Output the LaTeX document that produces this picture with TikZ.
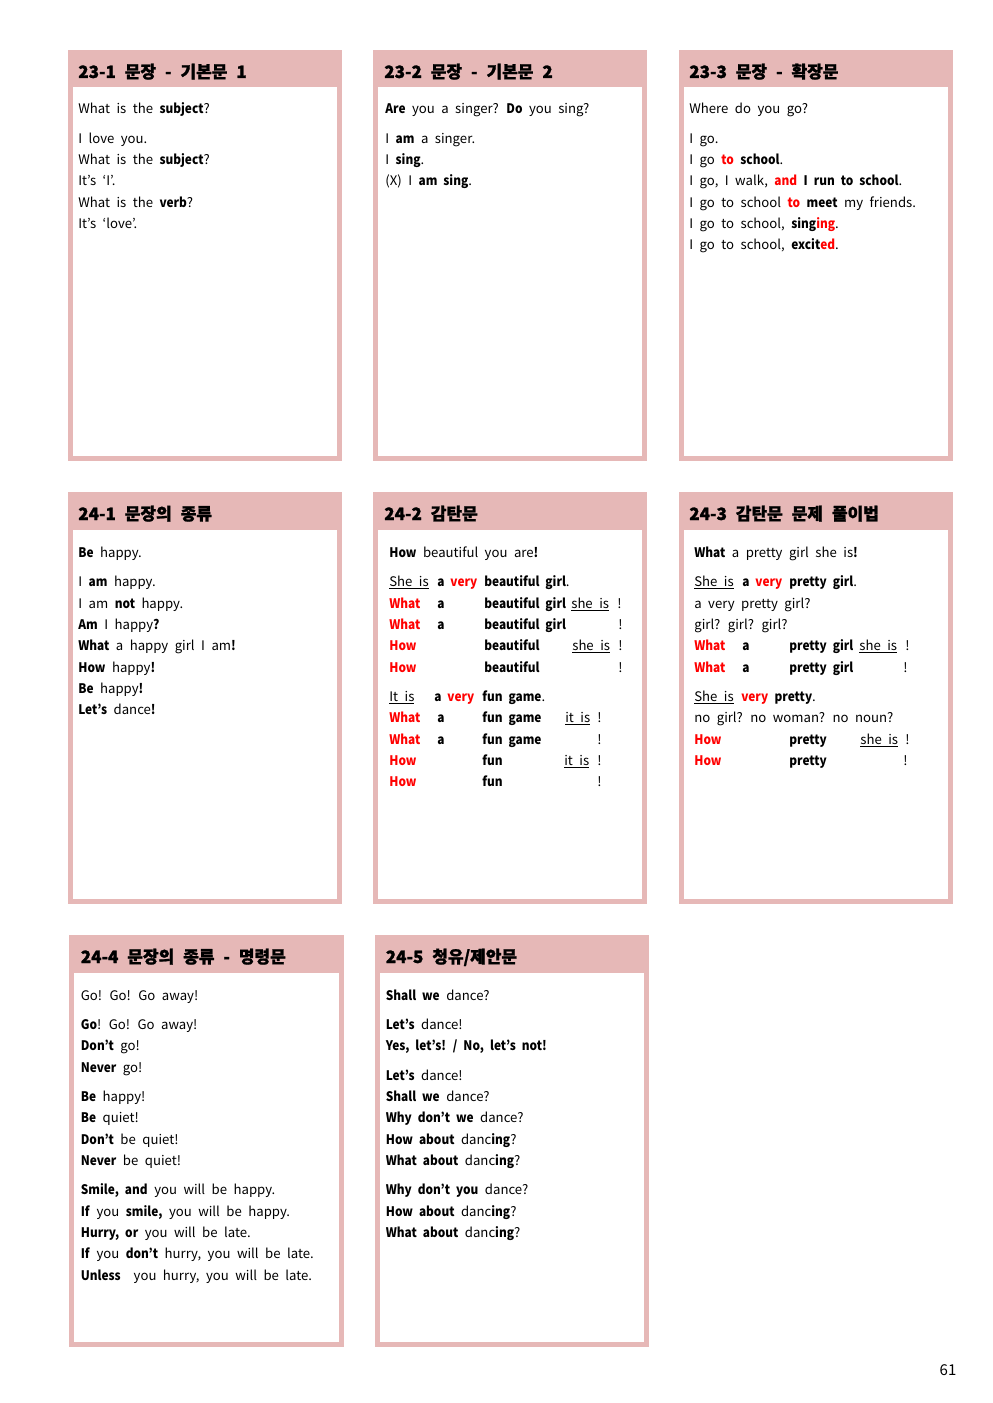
\documentclass[tikz,border=0pt]{standalone}
\usepackage{fontspec}
\setmainfont{Noto Sans CJK KR}[WordSpace=2.2, BoldFeatures={FakeStretch=0.9}]
\newfontfamily\hfont{Noto Sans CJK KR}[WordSpace=2.3, BoldFeatures={FakeBold=1.2}]
\definecolor{boxpink}{HTML}{E6B8B7}
\definecolor{hred}{HTML}{FF0000}
\newcommand\rd[1]{\textcolor{hred}{#1}}
\newcommand\rb[1]{\textcolor{hred}{\textbf{#1}}}
\newcommand\undl[1]{\underline{#1}}
\newcommand\card[5]{%
  \fill[boxpink] (#1,#2) rectangle (#3,#4);
  \fill[white] (#1+5,#5) rectangle (#3-5,#4-5);}
\newcommand\putln[4]{\node[body] (#1) at (#2,#3) {#4};}
\newcommand\puthd[4]{\node[head] (#1) at (#2,#3) {#4};}
\tikzset{
  body/.style={anchor=base west, inner sep=0pt, font=\fontsize{7.9pt}{9pt}\selectfont},
  head/.style={anchor=base west, inner sep=0pt, font=\hfont\bfseries\fontsize{10.2pt}{12pt}\selectfont},
  pagenum/.style={anchor=base, inner sep=0pt, font=\fontsize{9pt}{10pt}\selectfont}
}
\begin{document}
\begin{tikzpicture}[x=0.6pt,y=-0.6pt]
\fill[white] (0,0) rectangle (992,1403);
\useasboundingbox (0,0) rectangle (992,1403);
% cards
\card{68}{50}{342}{461}{87}
\card{373}{50}{647}{461}{87}
\card{679}{50}{953}{461}{87}
\card{68}{492}{342}{904}{530}
\card{373}{492}{647}{904}{530}
\card{679}{492}{953}{904}{530}
\card{69}{935}{344}{1347}{973}
\card{375}{935}{649}{1347}{973}
% headers
\puthd{h231}{78}{78}{23-1 문장 - 기본문 1}
\puthd{h232}{384}{78}{23-2 문장 - 기본문 2}
\puthd{h233}{689}{78}{23-3 문장 - 확장문}
\puthd{h241}{78}{520}{24-1 문장의 종류}
\puthd{h242}{384}{520}{24-2 감탄문}
\puthd{h243}{689}{520}{24-3 감탄문 문제 풀이법}
\puthd{h244}{80.5}{963}{24-4 문장의 종류 - 명령문}
\puthd{h245}{385.5}{963}{24-5 청유/제안문}
% 23-1
\putln{a1}{78}{114}{What is the \textbf{subject}?}
\putln{a2}{78}{144}{I love you.}
\putln{a3}{78}{165}{What is the \textbf{subject}?}
\putln{a4}{78}{186}{It’s ‘I’.}
\putln{a5}{78}{208}{What is the \textbf{verb}?}
\putln{a6}{78}{229}{It’s ‘love’.}
% 23-2
\putln{b1}{385}{114}{\textbf{Are} you a singer? \textbf{Do} you sing?}
\putln{b2}{385}{144}{I \textbf{am} a singer.}
\putln{b3}{385}{165}{I \textbf{sing}.}
\putln{b4}{385}{186}{(X) I \textbf{am sing}.}
% 23-3
\putln{c1}{689}{114}{Where do you go?}
\putln{c2}{689}{144}{I go.}
\putln{c3}{689}{165}{I go \rb{to} \textbf{school}.}
\putln{c4}{689}{186}{I go, I walk, \rb{and} \textbf{I run to school}.}
\putln{c5}{689}{208}{I go to school \rb{to} \textbf{meet} my friends.}
\putln{c6}{689}{229}{I go to school, \textbf{sing\rd{ing}}.}
\putln{c7}{689}{250}{I go to school, \textbf{excit\rd{ed}}.}
% 24-1
\putln{d1}{78}{557}{\textbf{Be} happy.}
\putln{d2}{78}{586}{I \textbf{am} happy.}
\putln{d3}{78}{608}{I am \textbf{not} happy.}
\putln{d4}{78}{629}{\textbf{Am} I happy\textbf{?}}
\putln{d5}{78}{650}{\textbf{What} a happy girl I am\textbf{!}}
\putln{d6}{78}{672}{\textbf{How} happy\textbf{!}}
\putln{d7}{78}{693}{\textbf{Be} happy\textbf{!}}
\putln{d8}{78}{714}{\textbf{Let’s} dance\textbf{!}}
% 24-2
\putln{e1}{389}{557}{\textbf{How} beautiful you are\textbf{!}}
\putln{e2a}{389}{586}{\undl{She is}}
\putln{e2b}{437}{586}{\textbf{a \rd{very}}}
\putln{e2c}{484}{586}{\textbf{beautiful girl}.}
\putln{e3a}{389}{608}{\rb{What}}
\putln{e3b}{437}{608}{\textbf{a}}
\putln{e3c}{484}{608}{\textbf{beautiful girl}}
\putln{e3d}{571}{608}{\undl{she is}}
\putln{e3e}{617}{608}{!}
\putln{e4a}{389}{629}{\rb{What}}
\putln{e4b}{437}{629}{\textbf{a}}
\putln{e4c}{484}{629}{\textbf{beautiful girl}}
\putln{e4e}{618}{629}{!}
\putln{e5a}{389}{650}{\rb{How}}
\putln{e5c}{484}{650}{\textbf{beautiful}}
\putln{e5d}{572}{650}{\undl{she is}}
\putln{e5e}{618}{650}{!}
\putln{e6a}{389}{672}{\rb{How}}
\putln{e6c}{484}{672}{\textbf{beautiful}}
\putln{e6e}{618}{672}{!}
\putln{e7a}{389}{701}{\undl{It is}}
\putln{e7b}{434}{701}{\textbf{a \rd{very}}}
\putln{e7c}{482}{701}{\textbf{fun game}.}
\putln{e8a}{389}{722}{\rb{What}}
\putln{e8b}{437}{722}{\textbf{a}}
\putln{e8c}{482}{722}{\textbf{fun game}}
\putln{e8d}{565}{722}{\undl{it is}}
\putln{e8e}{597}{722}{!}
\putln{e9a}{389}{744}{\rb{What}}
\putln{e9b}{437}{744}{\textbf{a}}
\putln{e9c}{482}{744}{\textbf{fun game}}
\putln{e9e}{597}{744}{!}
\putln{e10a}{389}{765}{\rb{How}}
\putln{e10c}{482}{765}{\textbf{fun}}
\putln{e10d}{564}{765}{\undl{it is}}
\putln{e10e}{597}{765}{!}
\putln{e11a}{389}{786}{\rb{How}}
\putln{e11c}{482}{786}{\textbf{fun}}
\putln{e11e}{597}{786}{!}
% 24-3
\putln{f1}{694}{557}{\textbf{What} a pretty girl she is\textbf{!}}
\putln{f2a}{694}{586}{\undl{She is}}
\putln{f2b}{742}{586}{\textbf{a \rd{very}}}
\putln{f2c}{789}{586}{\textbf{pretty girl}.}
\putln{f3}{694}{608}{a very pretty girl?}
\putln{f4}{694}{629}{girl? girl? girl?}
\putln{f5a}{694}{650}{\rb{What}}
\putln{f5b}{742}{650}{\textbf{a}}
\putln{f5c}{789}{650}{\textbf{pretty girl}}
\putln{f5d}{859}{650}{\undl{she is}}
\putln{f5e}{905}{650}{!}
\putln{f6a}{694}{672}{\rb{What}}
\putln{f6b}{742}{672}{\textbf{a}}
\putln{f6c}{789}{672}{\textbf{pretty girl}}
\putln{f6e}{903}{672}{!}
\putln{f7a}{694}{701}{\undl{She is}}
\putln{f7b}{741}{701}{\rb{very} \textbf{pretty}.}
\putln{f8}{694}{722}{no girl? no woman? no noun?}
\putln{f9a}{694}{744}{\rb{How}}
\putln{f9c}{789}{744}{\textbf{pretty}}
\putln{f9d}{860}{744}{\undl{she is}}
\putln{f9e}{905}{744}{!}
\putln{f10a}{694}{765}{\rb{How}}
\putln{f10c}{789}{765}{\textbf{pretty}}
\putln{f10e}{903}{765}{!}
% 24-4
\putln{g1}{80.5}{1000}{Go! Go! Go away!}
\putln{g2}{80.5}{1029}{\textbf{Go}! Go! Go away!}
\putln{g3}{80.5}{1050}{\textbf{Don’t} go!}
\putln{g4}{80.5}{1072}{\textbf{Never} go!}
\putln{g5}{80.5}{1101}{\textbf{Be} happy!}
\putln{g6}{80.5}{1122}{\textbf{Be} quiet!}
\putln{g7}{80.5}{1144}{\textbf{Don’t} be quiet!}
\putln{g8}{80.5}{1165}{\textbf{Never} be quiet!}
\putln{g9}{80.5}{1194}{\textbf{Smile, and} you will be happy.}
\putln{g10}{80.5}{1216}{\textbf{If} you \textbf{smile,} you will be happy.}
\putln{g11}{80.5}{1237}{\textbf{Hurry, or} you will be late.}
\putln{g12}{80.5}{1258}{\textbf{If} you \textbf{don’t} hurry, you will be late.}
\putln{g13}{80.5}{1280}{\textbf{Unless}\ \ you hurry, you will be late.}
% 24-5
\putln{k1}{385.5}{1000}{\textbf{Shall we} dance?}
\putln{k2}{385.5}{1029}{\textbf{Let’s} dance!}
\putln{k3}{385.5}{1050}{\textbf{Yes, let’s! / No, let’s not!}}
\putln{k4}{385.5}{1080}{\textbf{Let’s} dance!}
\putln{k5}{385.5}{1101}{\textbf{Shall we} dance?}
\putln{k6}{385.5}{1122}{\textbf{Why don’t we} dance?}
\putln{k7}{385.5}{1144}{\textbf{How about} danc\textbf{ing}?}
\putln{k8}{385.5}{1165}{\textbf{What about} danc\textbf{ing}?}
\putln{k9}{385.5}{1194}{\textbf{Why don’t you} dance?}
\putln{k10}{385.5}{1216}{\textbf{How about} danc\textbf{ing}?}
\putln{k11}{385.5}{1237}{\textbf{What about} danc\textbf{ing}?}
% page number
\node[pagenum] (pg) at (948,1375) {61};
\end{tikzpicture}
\end{document}
